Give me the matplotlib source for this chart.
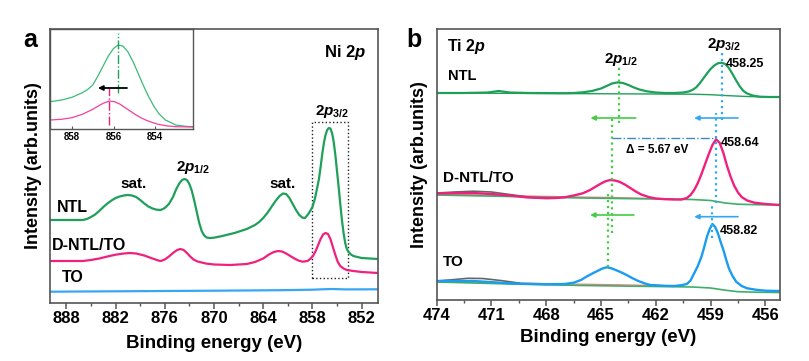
import matplotlib
matplotlib.use("Agg")
import matplotlib.pyplot as plt
from matplotlib.patches import Rectangle
from matplotlib.ticker import MultipleLocator

plt.rcParams['font.family'] = ['Liberation Sans', 'DejaVu Sans']
plt.rcParams['font.weight'] = 'bold'
plt.rcParams['mathtext.fontset'] = 'custom'
plt.rcParams['mathtext.rm'] = 'Liberation Sans:bold'
plt.rcParams['mathtext.it'] = 'Liberation Sans:italic:bold'
plt.rcParams['mathtext.bf'] = 'Liberation Sans:bold'

# ---------------- Panel a: Ni 2p ----------------
ni_ntl_e = [890, 886, 885.5, 885, 884.5, 884, 883.5, 883, 882.5, 882, 881.5, 881, 880.5, 880,
            879.5, 879, 878.5, 878, 877.5, 877, 876.5, 876.0, 875.5, 875.0, 874.6, 874.2, 873.9,
            873.6, 873.3, 873.0, 872.7, 872.4, 872.1, 871.8, 871.5, 871.2, 870.9, 870.5, 870.0,
            869.0, 867.5, 866.0, 865.0, 864.5, 864.0, 863.5, 863.0, 862.5, 862.0, 861.6, 861.2,
            860.8, 860.4, 860.0, 859.6, 859.2, 858.9, 858.5, 858.2, 858.0, 857.7, 857.5, 857.2,
            857.0, 856.8, 856.6, 856.4, 856.2, 856.0, 855.8, 855.6, 855.4, 855.2, 855.0, 854.8,
            854.6, 854.4, 854.2, 854.0, 853.8, 853.6, 853.3, 853.0, 852.5, 852.0, 851.0, 850]
ni_ntl_i = [83, 83, 84, 86, 88.5, 92, 96, 99.5, 102.5, 105, 106.5, 107.5, 108, 107.5,
            106, 103, 99.5, 96.5, 94.5, 93.3, 93, 95, 99, 106, 114, 120, 123,
            124, 123, 119, 112, 102, 91, 80, 72, 67.5, 65.5, 65, 65.3,
            67, 70, 74, 78, 81, 85, 90, 96, 102, 107, 109.5, 109,
            105, 99, 93, 88, 85.3, 85, 89, 93, 96, 104, 112, 124,
            136, 149, 160, 168, 173, 175, 174.5, 170, 161, 148, 132, 116,
            99, 83, 70, 60, 54, 51, 48.5, 47, 46, 45, 44.5, 44]

ni_dntl_e = [890, 886, 885, 884, 883, 882, 881, 880.3, 879.5, 878.5, 877.5, 876.8, 876.5, 876.0,
             875.5, 875.0, 874.5, 874.1, 873.7, 873.3, 872.9, 872.5, 872.0, 871.0, 870.0, 868.0,
             866.0, 865.0, 864.0, 863.3, 862.7, 862.2, 861.7, 861.2, 860.7, 860.2, 859.7, 859.2,
             858.6, 858.2, 857.9, 857.6, 857.3, 857.0, 856.7, 856.4, 856.1, 855.8, 855.5, 855.2,
             854.9, 854.6, 854.2, 853.8, 853.0, 852.0, 850]
ni_dntl_i = [42, 42, 43, 44.5, 46.5, 48.3, 49.5, 50, 49.5, 47.5, 44.5, 42.5, 42, 43.5,
             46.5, 50, 53, 54, 53, 50, 46.5, 43.5, 41.5, 39.5, 38.5, 38,
             39, 41, 44.5, 48.5, 51, 52, 51.5, 49.5, 47, 44.5, 42.5, 41.3,
             42, 44.5, 47.5, 52, 58, 64, 68.5, 70, 69, 64, 56, 48,
             41, 37, 34.5, 33, 32, 31, 30]

ni_to_e = [890, 880, 870, 862, 858, 856.5, 855.5, 854, 850]
ni_to_i = [11.3, 11.8, 12.3, 12.8, 13.3, 13.8, 14.0, 13.6, 13.7]

# inset (zoom of Ni 2p3/2)
in_ntl_e = [859.06, 858.5, 858.0, 857.5, 857.25, 857.0, 856.75, 856.5, 856.25, 856.0, 855.78,
            855.55, 855.3, 855.05, 854.8, 854.55, 854.3, 854.05, 853.8, 853.5, 853.0, 852.5, 852.17]
in_ntl = [27.3, 29, 31.7, 36.3, 39.5, 44, 53, 63, 73, 80.5, 84,
          83, 77, 67, 55, 43, 32, 22.5, 15, 9, 4, 2.6, 2.3]
in_dntl_e = [859.06, 858.5, 858.0, 857.5, 857.0, 856.75, 856.5, 856.2, 855.95, 855.7, 855.45,
             855.2, 854.95, 854.7, 854.45, 854.2, 853.9, 853.5, 853.0, 852.17]
in_dntl = [9, 9.7, 11.3, 14.7, 19.7, 22.8, 25.7, 28, 27.3, 25, 21.5,
           18, 14.5, 11.5, 9, 7, 5, 3.3, 2.3, 2]
in_peak_ntl = 855.78
in_peak_dntl = 856.2

# ---------------- Panel b: Ti 2p ----------------
ti_ntl_e = [474, 472.5, 471.2, 470.6, 470.0, 469, 467, 466.5, 466.0, 465.5, 465.0, 464.7, 464.4,
            464.1, 463.8, 463.5, 463.2, 462.9, 462.5, 462.0, 461.5, 461.0, 460.5, 460.2, 460.0,
            459.8, 459.6, 459.4, 459.2, 459.0, 458.8, 458.6, 458.4, 458.2, 458.0, 457.8, 457.6,
            457.4, 457.2, 457.0, 456.7, 456.3, 455.8, 455.2]
ti_ntl_i = [207, 207, 207.5, 209, 207.5, 207, 206.8, 207, 207.7, 209, 211.5, 214, 216.5,
            217.6, 217, 215, 212.5, 210.5, 208.7, 207.5, 207, 207, 207.5, 208.5, 210,
            212.5, 216.5, 221.5, 226.5, 231, 234.5, 236.7, 237.3, 236, 232, 226, 219.5,
            213.5, 209, 206.5, 204.5, 203.3, 203, 203]
ti_ntl_bg_e = [474, 468, 462, 460, 459, 458, 457, 456, 455.2]
ti_ntl_bg_i = [207, 206.5, 206, 205.8, 205.3, 204.3, 203.5, 203, 203]

ti_dntl_e = [474, 473, 472, 471, 470, 469, 468, 467.5, 467.0, 466.5, 466.0, 465.6, 465.3, 465.0,
             464.75, 464.5, 464.25, 464.0, 463.7, 463.4, 463.1, 462.8, 462.4, 462.0, 461.5,
             461.0, 460.6, 460.3, 460.1, 459.9, 459.7, 459.5, 459.3, 459.1, 458.9, 458.7, 458.5,
             458.3, 458.1, 457.9, 457.7, 457.5, 457.3, 457.0, 456.6, 456.0, 455.2]
ti_dntl_i = [106.5, 107, 107, 106, 104.5, 102.5, 101.8, 102, 102.7, 104.5, 106.7, 110, 113.3, 116.5,
             118.8, 120, 119.5, 118.3, 115.5, 112, 108.5, 105.5, 103, 101.5, 100.8,
             100.5, 100.5, 102, 105, 110, 117, 126, 136, 146, 155, 160.7, 157,
             147, 134, 123, 114, 107.5, 103, 99.5, 97.3, 96, 95]
ti_dntl_bg_e = [474, 470, 466, 462, 460, 459, 458.2, 457.5, 456.5, 455.2]
ti_dntl_bg_i = [105, 103.5, 102, 101, 100.5, 99.5, 97, 95.8, 95.3, 95]
ti_dntl_red_e = [474, 470, 467, 464, 461]
ti_dntl_red_i = [106, 104.3, 103.2, 102.3, 101]
ti_dntl_sat_e = [474, 473, 472, 471, 470, 469]
ti_dntl_sat_i = [107, 108, 108.8, 108, 105.5, 103]

ti_to_e = [474, 472, 470, 468, 467.0, 466.5, 466.1, 465.8, 465.5, 465.2, 464.95, 464.7, 464.45,
           464.2, 463.9, 463.6, 463.3, 463.0, 462.6, 462.3, 461.5, 461.0, 460.6, 460.3, 460.1,
           459.9, 459.7, 459.5, 459.35, 459.2, 459.05, 458.9, 458.75, 458.6, 458.45, 458.3,
           458.15, 458.0, 457.8, 457.6, 457.3, 457.0, 456.5, 456.0, 455.2]
ti_to_i = [19, 19, 16.7, 15.7, 16, 17.3, 20, 23.3, 26.3, 29, 31.3, 32.7, 31.8,
           30, 27.7, 25, 22, 19.3, 16.5, 15, 14.2, 14, 14.8, 16, 19.5,
           26.7, 34, 43.3, 53, 63.3, 71, 76, 73, 66.7, 58, 50,
           40.5, 31.7, 24, 18.3, 14, 11.7, 10.2, 9.3, 9]
ti_to_bg_e = [474, 470, 466, 462, 460, 459, 458.2, 457.5, 456.5, 455.2]
ti_to_bg_i = [18, 16, 14.5, 13.5, 13, 12, 9.8, 8.3, 7.8, 7.5]
ti_to_red_e = [474, 470, 467, 464, 461]
ti_to_red_i = [19, 17, 16, 15.2, 14]
ti_to_sat_e = [474, 473, 472.3, 471.5, 470.5, 469.5]
ti_to_sat_i = [19, 20.5, 21.7, 21.5, 19.5, 17]

# peak positions in Ti panel
ti_p12 = [464.0, 464.4, 464.6]
ti_p32 = [458.4, 458.7, 458.9]

GREEN = '#1fa05a'
PINK = '#f0207f'
BLUE = '#1a9cf0'
LGREEN = '#44cc44'
LBLUE = '#33a8f0'

fig = plt.figure(figsize=(8.09, 3.61), dpi=100)
W, H = 809, 361

def ax_rect(x0, y0, x1, y1):
    return [x0 / W, (H - y1) / H, (x1 - x0) / W, (y1 - y0) / H]

axa = fig.add_axes(ax_rect(50, 29, 378, 303))
axb = fig.add_axes(ax_rect(436.7, 29, 780, 300))

for ax in (axa, axb):
    for s in ax.spines.values():
        s.set_color('#555555')
        s.set_linewidth(1.2)
    ax.set_yticks([])
    ax.tick_params(axis='x', which='major', direction='out', length=4, width=1.1,
                   color='#555555', labelsize=12, pad=2)
    ax.tick_params(axis='x', which='minor', direction='out', length=2.5, width=1.0,
                   color='#555555')

# Panel a
axa.plot(ni_ntl_e, ni_ntl_i, color=GREEN, lw=1.6)
axa.plot(ni_dntl_e, ni_dntl_i, color=PINK, lw=1.6)
axa.plot(ni_to_e, ni_to_i, color='#39a6f5', lw=1.6)
axa.set_xlim(890, 850)
axa.set_ylim(0, 274)
axa.set_xticks([888, 882, 876, 870, 864, 858, 852])
axa.xaxis.set_minor_locator(MultipleLocator(3))
for lab in axa.get_xticklabels():
    lab.set_fontweight('bold')
axa.set_xlabel('Binding energy (eV)', fontsize=13.5, fontweight='bold', labelpad=6)
axa.set_ylabel('Intensity (arb.units)', fontsize=13, fontweight='bold', labelpad=6)
axa.add_patch(Rectangle((858, 24.7), -4.3, 156.6, fill=False, ls=':', lw=1.0, ec='#222222'))
axa.text(851.4, 250, 'Ni 2$p$', ha='right', va='center', fontsize=12, fontweight='bold')
axa.text(889.2, 96, 'NTL', ha='left', va='center', fontsize=11.5, fontweight='bold')
axa.text(889.8, 58, 'D-NTL/TO', ha='left', va='center', fontsize=11.5, fontweight='bold')
axa.text(888.6, 25, 'TO', ha='left', va='center', fontsize=11.5, fontweight='bold')
axa.text(879.8, 119, 'sat.', ha='center', va='center', fontsize=11, fontweight='bold')
axa.text(861.6, 119, 'sat.', ha='center', va='center', fontsize=11, fontweight='bold')
axa.text(872.6, 136, r'2$p_{\mathrm{1/2}}$', ha='center', va='center', fontsize=11)
axa.text(855.6, 192, r'2$p_{\mathrm{3/2}}$', ha='center', va='center', fontsize=11)

# Inset
axi = fig.add_axes(ax_rect(50, 29, 193, 129))
axi.plot(in_ntl_e, in_ntl, color='#3cba78', lw=0.9)
axi.plot(in_dntl_e, in_dntl, color='#f2409a', lw=0.9)
axi.set_xlim(859.06, 852.17)
axi.set_ylim(0, 100)
axi.set_yticks([])
axi.set_xticks([858, 856, 854])
axi.tick_params(axis='x', direction='in', length=2, labelsize=7, pad=2, color='#555555')
for lab in axi.get_xticklabels():
    lab.set_fontweight('bold')
for s in axi.spines.values():
    s.set_color('#555555')
    s.set_linewidth(1.0)
axi.plot([in_peak_ntl, in_peak_ntl], [36, 96], color='#1fa35a', lw=1.0, ls='-.')
axi.plot([in_peak_dntl, in_peak_dntl], [4, 41], color='#f0207f', lw=1.0, ls='-.')
axi.annotate('', xy=(856.75, 41), xytext=(855.35, 41),
             arrowprops=dict(arrowstyle='-|>', color='black', lw=1.3, mutation_scale=7,
                             shrinkA=0, shrinkB=0))

# Panel b
axb.plot(ti_ntl_bg_e, ti_ntl_bg_i, color=GREEN, lw=1.0)
axb.plot(ti_ntl_e, ti_ntl_i, color=GREEN, lw=1.6)
axb.plot(ti_dntl_red_e, ti_dntl_red_i, color='#f08080', lw=1.0)
axb.plot(ti_dntl_bg_e, ti_dntl_bg_i, color='#3fae6a', lw=1.2)
axb.plot(ti_dntl_sat_e, ti_dntl_sat_i, color='#666666', lw=1.2)
axb.plot(ti_dntl_e, ti_dntl_i, color=PINK, lw=1.7)
axb.plot(ti_to_red_e, ti_to_red_i, color='#f08080', lw=1.0)
axb.plot(ti_to_bg_e, ti_to_bg_i, color='#3fae6a', lw=1.2)
axb.plot(ti_to_sat_e, ti_to_sat_i, color='#666666', lw=1.2)
axb.plot(ti_to_e, ti_to_i, color=BLUE, lw=1.7)
axb.set_xlim(474, 455.2)
axb.set_ylim(0, 271)
axb.set_xticks([474, 471, 468, 465, 462, 459, 456])
axb.xaxis.set_minor_locator(MultipleLocator(1.5))
for lab in axb.get_xticklabels():
    lab.set_fontweight('bold')
axb.set_xlabel('Binding energy (eV)', fontsize=13.5, fontweight='bold', labelpad=4)
axb.set_ylabel('Intensity (arb.units)', fontsize=13, fontweight='bold', labelpad=6)

# dotted marker lines
axb.plot([ti_p12[0]] * 2, [177, 235], color=LGREEN, ls=':', lw=1.6)
axb.plot([ti_p12[1]] * 2, [67, 185], color=LGREEN, ls=':', lw=1.6)
axb.plot([ti_p12[2]] * 2, [33, 108], color=LGREEN, ls=':', lw=1.6)
axb.plot([ti_p32[0]] * 2, [180, 248], color=LBLUE, ls=':', lw=1.6)
axb.plot([ti_p32[1]] * 2, [97, 187], color=LBLUE, ls=':', lw=1.6)
axb.plot([ti_p32[2]] * 2, [62, 97], color=LBLUE, ls=':', lw=1.6)
axb.plot([ti_p12[1], ti_p32[1]], [162, 162], color='#3c8dbc', ls='-.', lw=1.0)

arrow_kw = dict(arrowstyle='-|>', lw=1.2, mutation_scale=7, shrinkA=0, shrinkB=0)
axb.annotate('', xy=(465.58, 182), xytext=(463.1, 182),
             arrowprops=dict(color=LGREEN, **arrow_kw))
axb.annotate('', xy=(459.9, 182), xytext=(457.5, 182),
             arrowprops=dict(color=LBLUE, **arrow_kw))
axb.annotate('', xy=(465.6, 85), xytext=(463.2, 85),
             arrowprops=dict(color=LGREEN, **arrow_kw))
axb.annotate('', xy=(459.9, 83.3), xytext=(457.5, 83.3),
             arrowprops=dict(color=LBLUE, **arrow_kw))

axb.text(473.45, 253, 'Ti 2$p$', ha='left', va='center', fontsize=11.5, fontweight='bold')
axb.text(473.4, 224, 'NTL', ha='left', va='center', fontsize=10.5, fontweight='bold')
axb.text(473.65, 122, 'D-NTL/TO', ha='left', va='center', fontsize=11, fontweight='bold')
axb.text(473.65, 38.3, 'TO', ha='left', va='center', fontsize=11, fontweight='bold')
axb.text(463.9, 240, r'2$p_{\mathrm{1/2}}$', ha='center', va='center', fontsize=11)
axb.text(458.27, 255, r'2$p_{\mathrm{3/2}}$', ha='center', va='center', fontsize=11)
axb.text(458.16, 236, '458.25', ha='left', va='center', fontsize=9, fontweight='bold')
axb.text(458.43, 157, '458.64', ha='left', va='center', fontsize=9, fontweight='bold')
axb.text(458.49, 69.3, '458.82', ha='left', va='center', fontsize=9, fontweight='bold')
axb.text(461.9, 150, 'Δ = 5.67 eV', ha='center', va='center', fontsize=8.5, fontweight='bold')

fig.text(30 / W, 1 - 40 / H, 'a', fontsize=18, fontweight='bold', ha='center', va='center')
fig.text(414 / W, 1 - 40 / H, 'b', fontsize=18, fontweight='bold', ha='center', va='center')

fig.savefig('out.png', dpi=100)
